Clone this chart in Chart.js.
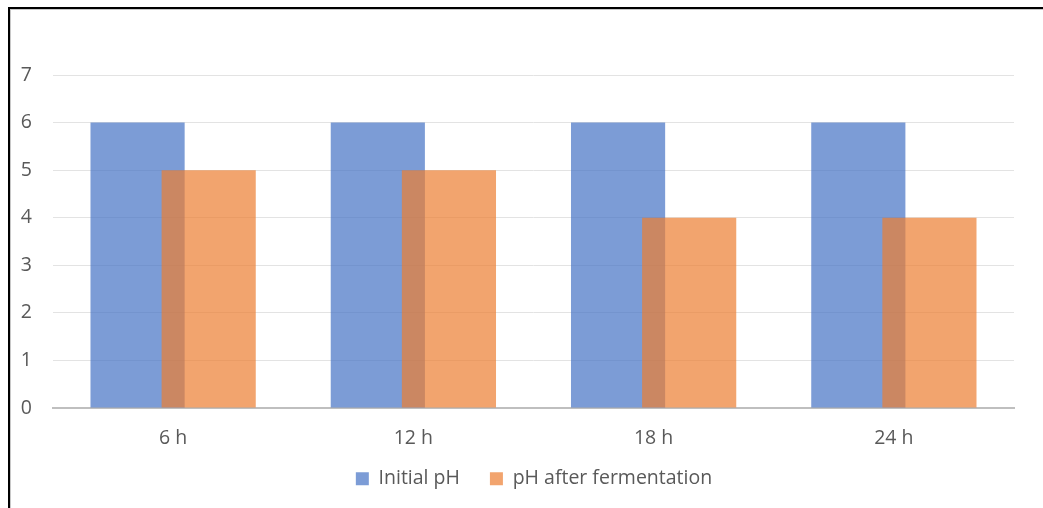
<!DOCTYPE html>
<html>
<head>
<meta charset="utf-8">
<script src="https://cdn.jsdelivr.net/npm/chart.js@4/dist/chart.umd.min.js"></script>
<style>
  html, body { margin: 0; padding: 0; background: #fff; overflow: hidden; }
  #frame {
    position: absolute; left: 8px; top: 7px; width: 1100px; height: 600px;
    border-top: 2px solid #000; border-left: 2px solid #000;
    box-shadow: inset 1px 1px 0 #c8c8c8;
  }
  #wrap { position: absolute; left: 0; top: 0; width: 1043px; height: 508px; }
</style>
</head>
<body>
<div id="frame"></div>
<div id="wrap"><canvas id="c" width="1043" height="508"></canvas></div>
<script>
const categories = ['6 h', '12 h', '18 h', '24 h'];
const initialPH = [6, 6, 6, 6];
const fermentedPH = [5, 5, 4, 4];
const seriesNames = ['Initial pH', 'pH after fermentation'];
const yTicks = [0, 1, 2, 3, 4, 5, 6, 7];

const FONT = 'Open Sans';
const TEXT = '#595959';
const SIZE = 19.5;

// Paint series in dataset order so the second series sits over the first where they overlap.
const drawInIndexOrder = {
  id: 'drawInIndexOrder',
  beforeDatasetsDraw(chart) {
    chart.getSortedVisibleDatasetMetas().forEach(m => m.controller.draw());
    return false;
  }
};

// Nudge the legend row into place beneath the axis labels.
const legendOffset = {
  id: 'legendOffset',
  afterLayout(chart) {
    const L = chart.legend;
    const dy = -15, dx = 27;
    L.top += dy; L.bottom += dy;
    L.left += dx; L.right += dx;
  }
};

new Chart(document.getElementById('c'), {
  type: 'bar',
  data: {
    labels: categories,
    datasets: [
      {
        label: seriesNames[0],
        data: initialPH,
        backgroundColor: 'rgba(68,114,196,0.7)',
        borderWidth: 0,
        categoryPercentage: 0.592,
        barPercentage: 1.324
      },
      {
        label: seriesNames[1],
        data: fermentedPH,
        backgroundColor: 'rgba(237,125,49,0.7)',
        borderWidth: 0,
        categoryPercentage: 0.592,
        barPercentage: 1.324
      }
    ]
  },
  plugins: [drawInIndexOrder, legendOffset],
  options: {
    responsive: false,
    animation: false,
    layout: { padding: { top: 75, right: 29, left: 0, bottom: 0 } },
    plugins: {
      tooltip: { enabled: false },
      legend: {
        position: 'bottom',
        maxHeight: 54,
        labels: {
          color: TEXT,
          font: { family: FONT, size: SIZE },
          boxWidth: 13,
          boxHeight: 13,
          padding: 30
        }
      }
    },
    scales: {
      x: {
        grid: { display: false, drawTicks: false },
        border: { color: '#bfbfbf', width: 2 },
        ticks: { color: TEXT, font: { family: FONT, size: SIZE }, padding: 19 },
        afterFit: s => { s.height = 46; }
      },
      y: {
        min: 0, max: 7,
        afterBuildTicks: s => { s.ticks = yTicks.map(v => ({ value: v })); },
        grid: { color: '#e3e3e3', lineWidth: 1, drawTicks: false },
        border: { display: false },
        ticks: { color: TEXT, font: { family: FONT, size: SIZE }, padding: 21 },
        afterFit: s => { s.width = 53; }
      }
    }
  }
});
</script>
</body>
</html>
